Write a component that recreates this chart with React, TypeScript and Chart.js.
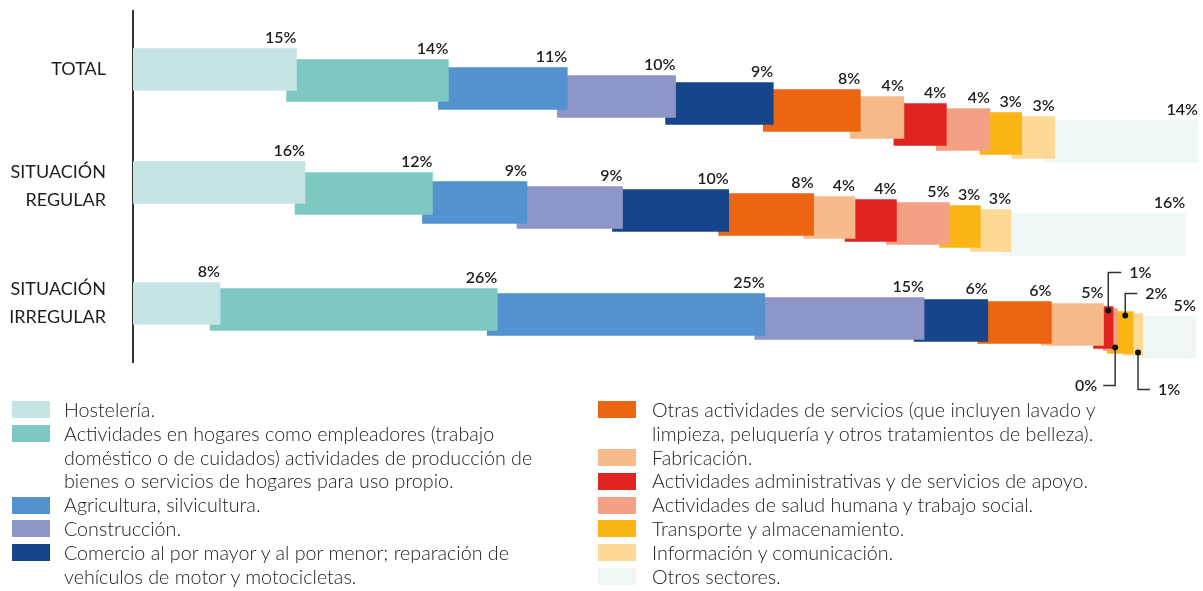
import React, { useEffect, useRef } from 'react';
import { Chart, registerables } from 'chart.js';

Chart.register(...registerables);

// ---- categories (rows) ----
const categories: (string | string[])[] = ['TOTAL', ['SITUACIÓN', 'REGULAR'], ['SITUACIÓN', 'IRREGULAR']];

// ---- series values, % per row [TOTAL, REGULAR, IRREGULAR] ----
const hosteleria = [15.4, 16.2, 8.2];
const hogares = [14.3, 12.0, 26.1];
const agricultura = [11.2, 8.9, 25.2];
const construccion = [10.2, 9.0, 15.0];
const comercio = [9.2, 10.0, 6.0];
const otrasServicios = [8.2, 8.0, 6.0];
const fabricacion = [4.1, 3.9, 4.9];
const administrativas = [4.0, 3.9, 0.9];
const salud = [4.1, 5.0, 0.4];
const transporte = [3.0, 2.9, 1.5];
const informacion = [3.1, 2.9, 0.9];
const otros = [13.5, 16.4, 5.0];

const seriesValues = [
  hosteleria, hogares, agricultura, construccion, comercio, otrasServicios,
  fabricacion, administrativas, salud, transporte, informacion, otros,
];

const seriesNames = [
  'Hostelería.',
  'Actividades en hogares como empleadores',
  'Agricultura, silvicultura.',
  'Construcción.',
  'Comercio al por mayor y al por menor',
  'Otras actividades de servicios',
  'Fabricación.',
  'Actividades administrativas y de servicios de apoyo.',
  'Actividades de salud humana y trabajo social.',
  'Transporte y almacenamiento.',
  'Información y comunicación.',
  'Otros sectores.',
];

const seriesColors = [
  '#c6e4e3', '#7ec8c3', '#5392ce', '#8e96c8', '#17458c', '#ec6611',
  '#f7bb8b', '#e12420', '#f3a084', '#fbb615', '#fdd995', '#eef7f5',
];

// legend text lines (as printed)
const legendLines: string[][] = [
  ['Hostelería.'],
  ['Actividades en hogares como empleadores (trabajo', 'doméstico o de cuidados) actividades de producción de', 'bienes o servicios de hogares para uso propio.'],
  ['Agricultura, silvicultura.'],
  ['Construcción.'],
  ['Comercio al por mayor y al por menor; reparación de', 'vehículos de motor y motocicletas.'],
  ['Otras actividades de servicios (que incluyen lavado y', 'limpieza, peluquería y otros tratamientos de belleza).'],
  ['Fabricación.'],
  ['Actividades administrativas y de servicios de apoyo.'],
  ['Actividades de salud humana y trabajo social.'],
  ['Transporte y almacenamiento.'],
  ['Información y comunicación.'],
  ['Otros sectores.'],
];
const legendColumns = [[0, 1, 2, 3, 4], [5, 6, 7, 8, 9, 10, 11]];

// ---- styling: staircase drop (px) of each segment per row, and left tuck ----
const rowDrops = [
  [0, 11, 19, 27, 34, 41, 48, 55, 60, 64, 68, 72],
  [-4, 7, 16, 21, 24, 28, 31, 34, 37, 40, 44, 48],
  [0, 6, 11, 15, 17, 19, 21, 24, 26, 29, 31, 34],
];
const tuck = 10;
const callouts: Record<string, { side: 'up' | 'down'; len: number; dx: number }> = {
  '2-7': { side: 'up', len: 38, dx: 13 },
  '2-8': { side: 'down', len: 38, dx: -12 },
  '2-9': { side: 'up', len: 22, dx: 12 },
  '2-10': { side: 'down', len: 37, dx: 12 },
};

const FONT = 'Lato, "Noto Sans", sans-serif';

const staggerPlugin = {
  id: 'stagger',
  afterDatasetsUpdate(chart: any) {
    chart.data.datasets.forEach((_ds: any, i: number) => {
      const meta = chart.getDatasetMeta(i);
      meta.data.forEach((el: any, r: number) => {
        el.y += rowDrops[r][i];
        if (i > 0) el.base -= tuck;
      });
    });
  },
};

const labelPlugin = {
  id: 'pctLabels',
  afterDatasetsDraw(chart: any) {
    const ctx = chart.ctx as CanvasRenderingContext2D;
    ctx.save();
    ctx.font = `600 16px ${FONT}`;
    ctx.fillStyle = '#1e1e1e';
    ctx.strokeStyle = '#333';
    ctx.lineWidth = 1.5;
    chart.data.datasets.forEach((ds: any, i: number) => {
      const meta = chart.getDatasetMeta(i);
      meta.data.forEach((el: any, r: number) => {
        const v = ds.data[r] as number;
        const text = `${Math.round(v)}%`;
        const top = el.y - el.height / 2;
        const bottom = el.y + el.height / 2;
        const co = callouts[`${r}-${i}`];
        if (!co) {
          ctx.textAlign = 'right';
          ctx.textBaseline = 'alphabetic';
          ctx.fillText(text, el.x, top - 6);
          return;
        }
        const prevEnd = i > 0 ? (chart.getDatasetMeta(i - 1).data[r] as any).x : chart.chartArea.left;
        const dotX = (prevEnd + el.x) / 2;
        const dotY = co.side === 'up' ? top + 4 : bottom - 3;
        const endY = co.side === 'up' ? dotY - co.len : dotY + co.len;
        ctx.beginPath();
        ctx.moveTo(dotX, dotY);
        ctx.lineTo(dotX, endY);
        ctx.lineTo(dotX + co.dx, endY);
        ctx.stroke();
        ctx.beginPath();
        ctx.arc(dotX, dotY, 3, 0, Math.PI * 2);
        ctx.fillStyle = '#111';
        ctx.fill();
        ctx.fillStyle = '#1e1e1e';
        ctx.textBaseline = 'middle';
        if (co.dx > 0) {
          ctx.textAlign = 'left';
          ctx.fillText(text, dotX + co.dx + 8, endY);
        } else {
          ctx.textAlign = 'right';
          ctx.fillText(text, dotX + co.dx - 6, endY);
        }
      });
    });
    ctx.restore();
  },
};

export default function App() {
  const canvasRef = useRef<HTMLCanvasElement | null>(null);

  useEffect(() => {
    document.body.style.margin = '0';
    const canvas = canvasRef.current;
    if (!canvas) return;
    const totals = categories.map((_c, r) => seriesValues.reduce((s, arr) => s + arr[r], 0));
    const xMax = Math.max(...totals);
    const chart = new Chart(canvas, {
      type: 'bar',
      data: {
        labels: categories as any,
        datasets: seriesValues.map((vals, i) => ({
          label: seriesNames[i],
          data: vals,
          backgroundColor: seriesColors[i],
          borderWidth: 0,
          barThickness: 42,
        })),
      },
      options: {
        indexAxis: 'y',
        animation: false,
        responsive: false,
        maintainAspectRatio: false,
        layout: { padding: { top: 11, right: 5, bottom: 38, left: 0 } },
        plugins: {
          legend: { display: false },
          tooltip: { enabled: false },
          title: { display: false },
        },
        scales: {
          x: { display: false, stacked: true, min: 0, max: xMax },
          y: {
            stacked: true,
            grid: { display: false, drawTicks: false },
            border: { display: true, color: '#333', width: 2 },
            ticks: {
              padding: 27,
              color: '#1e1e1e',
              font: { family: FONT, size: 18, lineHeight: 1.56 },
            },
            afterFit: (s: any) => {
              s.width = 133;
              s.paddingTop = 0;
              s.paddingBottom = 0;
            },
          },
        },
      },
      plugins: [staggerPlugin, labelPlugin],
    });
    return () => chart.destroy();
  }, []);

  const lineH = 23.8;
  return (
    <div style={{ position: 'relative', width: 1203, height: 591, background: '#fff', fontFamily: FONT }}>
      <canvas ref={canvasRef} width={1203} height={400} style={{ position: 'absolute', left: 0, top: 0, width: 1203, height: 400 }} />
      {legendColumns.map((col, ci) => {
        let lineIdx = 0;
        const boxLeft = ci === 0 ? 12 : 598;
        const textLeft = ci === 0 ? 64 : 652;
        return col.map((si) => {
          const startY = 398 + lineIdx * lineH;
          lineIdx += legendLines[si].length;
          return (
            <div key={si}>
              <div style={{ position: 'absolute', left: boxLeft, top: startY + lineH / 2 - 8.5, width: 38, height: 17, background: seriesColors[si] }} />
              {legendLines[si].map((ln, k) => (
                <div key={k} style={{ position: 'absolute', left: textLeft, top: startY + k * lineH, height: lineH, lineHeight: `${lineH}px`, fontSize: 19.7, fontWeight: 300, color: '#222', whiteSpace: 'nowrap' }}>{ln}</div>
              ))}
            </div>
          );
        });
      })}
    </div>
  );
}
